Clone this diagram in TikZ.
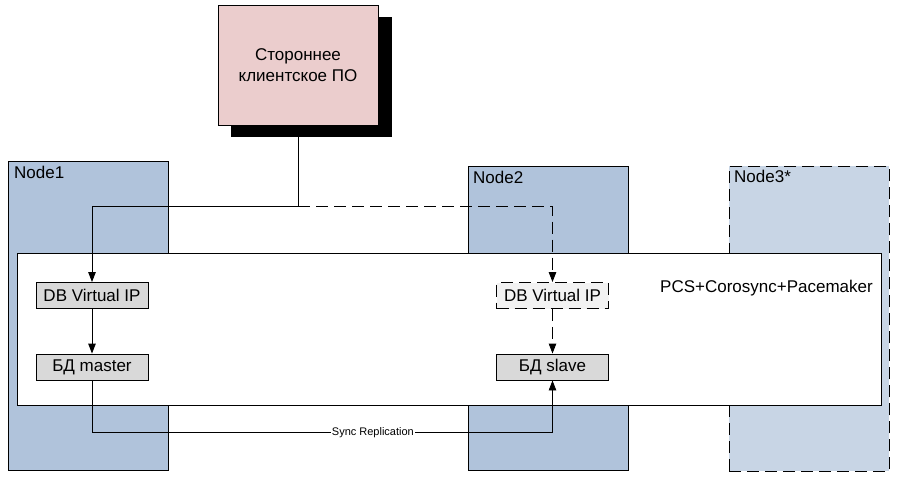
\documentclass[tikz,border=0pt]{standalone}
\usepackage{fontspec}
\setmainfont{Liberation Sans}
\usetikzlibrary{arrows.meta}
\definecolor{nodeblue}{RGB}{176,195,219}
\definecolor{nodelight}{RGB}{200,213,229}
\definecolor{clientpink}{RGB}{235,205,205}
\definecolor{boxgray}{RGB}{217,217,217}
\definecolor{boxlight}{RGB}{242,242,242}
\tikzset{
  hostbox/.style={draw=black, line width=0.9pt, fill=nodeblue, anchor=north west, inner sep=0pt},
  hostlabel/.style={anchor=north west, inner sep=0pt, font=\fontsize{17}{20}\selectfont},
  dbbox/.style={draw=black, line width=0.9pt, fill=boxgray, minimum width=112pt, minimum height=26pt, inner sep=0pt, font=\fontsize{17}{20}\selectfont},
  dashpat/.style={dash pattern=on 12pt off 6pt},
  conn/.style={line width=0.9pt, draw=black},
  tip/.style={-{Triangle[length=10pt,width=7.5pt]}}
}
\begin{document}
\begin{tikzpicture}[x=1pt,y=-1pt]
\useasboundingbox (0,0) rectangle (899,479);
% hosts
\node[hostbox, minimum width=160pt, minimum height=309pt] (n1) at (8,161) {};
\node[hostlabel] (n1l) at (14,166) {Node1};
\node[hostbox, minimum width=160pt, minimum height=304pt] (n2) at (468,166) {};
\node[hostlabel] (n2l) at (473,171) {Node2};
\node[hostbox, fill=nodelight, dashpat, minimum width=160pt, minimum height=305pt] (n3) at (729,166) {};
\node[hostlabel] (n3l) at (734,170) {Node3*};
% cluster
\node[draw=black, line width=0.9pt, fill=white, anchor=north west, inner sep=0pt, minimum width=864pt, minimum height=152pt] (pcs) at (17,253) {};
\node[anchor=east, inner sep=0pt, font=\fontsize{17}{20}\selectfont] (pcsl) at (873,288) {PCS+Corosync+Pacemaker};
% db boxes
\node[dbbox] (vip1) at (92,295.5) {DB Virtual IP};
\node[dbbox] (master) at (92,367) {БД master};
\node[dbbox, fill=boxlight, dashpat] (vip2) at (552.5,295.5) {DB Virtual IP};
\node[dbbox] (slave) at (552.5,367) {БД slave};
% client
\node[fill=black, minimum width=161pt, minimum height=120pt, inner sep=0pt] (clientshadow) at (311.5,77) {};
\node[draw=black, line width=0.9pt, fill=clientpink, minimum width=160pt, minimum height=120pt, inner sep=0pt, align=center, font=\fontsize{17}{21}\selectfont] (client) at (298,65) {Стороннее\\клиентское ПО};
\coordinate (split) at (298,206);
% connectors
\draw[conn] (client.south |- clientshadow.south) -- (split);
\draw[conn, tip] (split) -| (vip1.north);
\draw[conn, tip, dashpat] (split) -| (vip2.north);
\draw[conn, tip] (vip1) -- (master);
\draw[conn, tip, dashpat] (vip2) -- (slave);
\draw[conn, tip] (master.south) -- ++(0,52) -| node[pos=0.305, fill=white, inner sep=1pt, font=\fontsize{11}{13}\selectfont] {Sync Replication} (slave.south);
\end{tikzpicture}
\end{document}
